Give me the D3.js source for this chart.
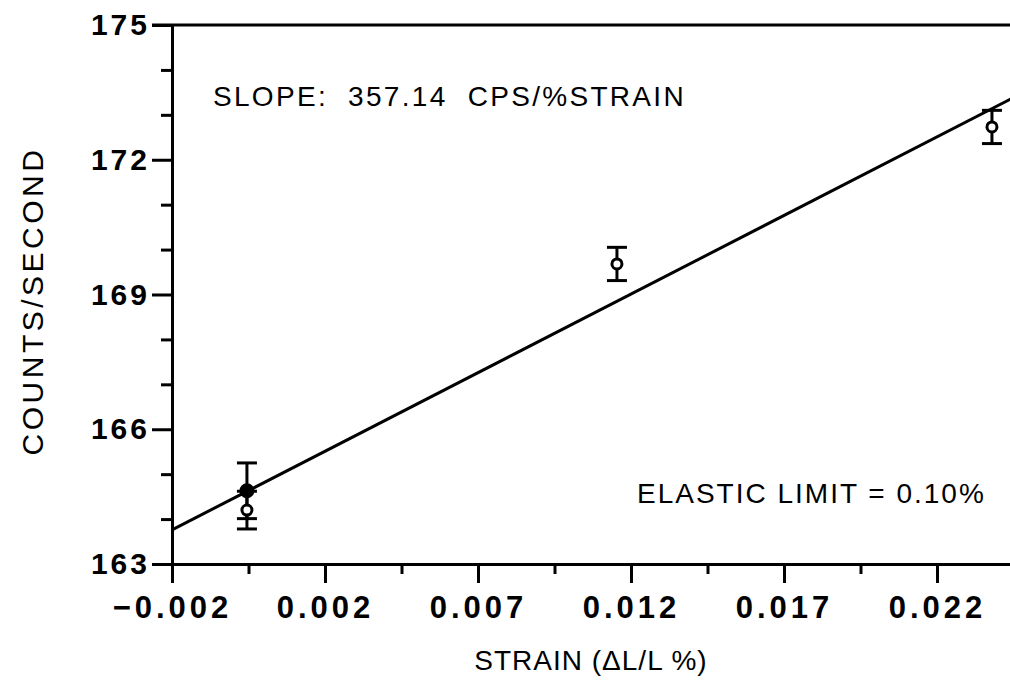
<!DOCTYPE html>
<html>
<head>
<meta charset="utf-8">
<script src="https://cdn.jsdelivr.net/npm/d3@7"></script>
<style>
  body { margin: 0; background: #fff; }
  text { font-family: "Liberation Sans", Arial, sans-serif; fill: #000; }
</style>
</head>
<body>
<div id="chart"></div>
<script>
// strain (dL/L %) vs count rate, with error bars
var strain = [0.0004, 0.0004, 0.01225, 0.02426];
var counts = [164.63, 164.20, 169.68, 172.73];
var errors = [0.62, 0.42, 0.37, 0.37];

// axis ticks (labels on the original plot are truncated values)
var xTicks = [-0.002, 0.0029, 0.0078, 0.0127, 0.0176, 0.0225];
var xTickLabels = ["\u22120.002", "0.002", "0.007", "0.012", "0.017", "0.022"];
var yTicks = [163, 166, 169, 172, 175];
var yMinorTicks = [164, 165, 167, 168, 170, 171, 173, 174];

// linear fit
var fitSlope = 357.14;
var fitIntercept = 164.474;

var svgWidth = 1010;
var svgHeight = 694;

var svg = d3.select("#chart")
  .append("svg")
  .attr("width", svgWidth)
  .attr("height", svgHeight);

svg.append("rect")
  .attr("width", svgWidth)
  .attr("height", svgHeight)
  .attr("fill", "#fff");

var xScale = d3.scaleLinear()
  .domain([-0.002, 0.025])
  .range([172, 172 + 0.027 / 0.0049 * 153]);

var yScale = d3.scaleLinear()
  .domain([163, 175])
  .range([564, 25]);

var xMinorTicks = xTicks.map(d => d + 0.00245);

// minor x ticks
svg.append("g")
  .attr("transform", `translate(0, ${yScale(163)})`)
  .call(d3.axisBottom(xScale).tickValues(xMinorTicks).tickSize(10).tickSizeOuter(0).tickFormat(""))
  .call(g => g.select(".domain").remove());

// major x ticks
var xAxis = svg.append("g")
  .attr("transform", `translate(0, ${yScale(163)})`)
  .call(d3.axisBottom(xScale)
    .tickValues(xTicks)
    .tickSize(19)
    .tickSizeOuter(0)
    .tickPadding(13)
    .tickFormat((d, i) => xTickLabels[i]));

// minor y ticks
svg.append("g")
  .attr("transform", `translate(${xScale(-0.002)}, 0)`)
  .call(d3.axisLeft(yScale).tickValues(yMinorTicks).tickSize(11).tickSizeOuter(0).tickFormat(""))
  .call(g => g.select(".domain").remove());

// major y ticks
var yAxis = svg.append("g")
  .attr("transform", `translate(${xScale(-0.002)}, 0)`)
  .call(d3.axisLeft(yScale)
    .tickValues(yTicks)
    .tickSize(20)
    .tickSizeOuter(0)
    .tickPadding(2));

svg.selectAll(".domain, .tick line")
  .attr("stroke", "#000")
  .attr("stroke-width", 3);

xAxis.selectAll("text")
  .attr("font-size", "31px")
  .attr("font-weight", "bold")
  .attr("letter-spacing", "4px");

yAxis.selectAll("text")
  .attr("font-size", "30px")
  .attr("font-weight", "bold")
  .attr("letter-spacing", "3px");

// top frame line
svg.append("line")
  .attr("x1", xScale(-0.002) - 20)
  .attr("x2", svgWidth)
  .attr("y1", yScale(175))
  .attr("y2", yScale(175))
  .attr("stroke", "#000")
  .attr("stroke-width", 3);

// fit line
var fitX = xScale.domain();
svg.append("line")
  .attr("x1", xScale(fitX[0]))
  .attr("y1", yScale(fitIntercept + fitSlope * fitX[0]))
  .attr("x2", xScale(fitX[1]))
  .attr("y2", yScale(fitIntercept + fitSlope * fitX[1]))
  .attr("stroke", "#000")
  .attr("stroke-width", 3);

// error bars
var pts = strain.map((d, i) => ({ x: d, y: counts[i], e: errors[i] }));

var bars = svg.append("g")
  .attr("stroke", "#000")
  .attr("stroke-width", 3)
  .attr("fill", "none");

bars.selectAll(".stem")
  .data(pts)
  .enter()
  .append("line")
  .attr("x1", d => xScale(d.x))
  .attr("x2", d => xScale(d.x))
  .attr("y1", d => yScale(d.y + d.e))
  .attr("y2", d => yScale(d.y - d.e));

bars.selectAll(".capTop")
  .data(pts)
  .enter()
  .append("line")
  .attr("x1", d => xScale(d.x) - 10)
  .attr("x2", d => xScale(d.x) + 10)
  .attr("y1", d => yScale(d.y + d.e))
  .attr("y2", d => yScale(d.y + d.e));

bars.selectAll(".capBottom")
  .data(pts)
  .enter()
  .append("line")
  .attr("x1", d => xScale(d.x) - 10)
  .attr("x2", d => xScale(d.x) + 10)
  .attr("y1", d => yScale(d.y - d.e))
  .attr("y2", d => yScale(d.y - d.e));

// markers: open circles, the first one sits on the fit line and looks filled
svg.selectAll(".marker")
  .data(pts)
  .enter()
  .append("circle")
  .attr("cx", d => xScale(d.x))
  .attr("cy", d => yScale(d.y))
  .attr("r", (d, i) => i === 0 ? 6 : 5)
  .attr("fill", (d, i) => i === 0 ? "#000" : "#fff")
  .attr("stroke", "#000")
  .attr("stroke-width", 3);

// annotations
svg.append("text")
  .attr("x", 213)
  .attr("y", 106)
  .attr("font-size", "28px")
  .attr("letter-spacing", "2.3px")
  .style("white-space", "pre")
  .text("SLOPE:  357.14  CPS/%STRAIN");

svg.append("text")
  .attr("x", 637)
  .attr("y", 503)
  .attr("font-size", "28px")
  .attr("letter-spacing", "2px")
  .text("ELASTIC LIMIT = 0.10%");

// axis titles
svg.append("text")
  .attr("x", 591)
  .attr("y", 670)
  .attr("text-anchor", "middle")
  .attr("font-size", "28px")
  .attr("letter-spacing", "1px")
  .text("STRAIN (\u0394L/L %)");

svg.append("text")
  .attr("transform", "translate(43, 301) rotate(-90)")
  .attr("text-anchor", "middle")
  .attr("font-size", "30px")
  .attr("letter-spacing", "3.5px")
  .text("COUNTS/SECOND");
</script>
</body>
</html>
